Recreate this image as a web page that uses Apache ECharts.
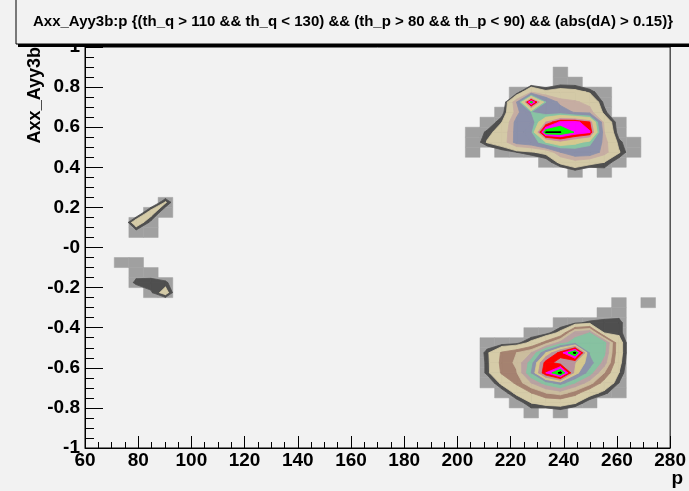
<!DOCTYPE html>
<html><head><meta charset="utf-8">
<script src="https://cdn.jsdelivr.net/npm/echarts@6/dist/echarts.min.js"></script>
<style>html,body{margin:0;padding:0;background:#f2f2f2;}#c{width:689px;height:491px;}</style>
</head><body><div id="c"></div>
<script>
// ---- text ----
const titleText = 'Axx_Ayy3b:p {(th_q > 110 && th_q < 130) && (th_p > 80 && th_p < 90) && (abs(dA) > 0.15)}';
const xTitle = 'p';
const yTitle = 'Axx_Ayy3b';
const xTickLabels = ['60','80','100','120','140','160','180','200','220','240','260','280'];
const yTickLabels = ['-1','-0.8','-0.6','-0.4','-0.2','-0','0.2','0.4','0.6','0.8','1'];
// ---- histogram binning ----
const binXLow = 60, binXWidth = 5.5;
const binYLow = -1, binYWidth = 0.05;
// ---- contour levels ----
const levels = [1, 1.5, 3, 4, 5, 6, 7, 8, 9, 10, 11, 12, 13];
// ---- bin contents: origin = [x bin, y bin] of bottom-left entry; rows listed top to bottom ----
const clusterA_origin = [26, 27];
const clusterA = [
  [0,0,0,0,0,0,0.5,0,0,0,0,0],
  [0,0,0,0,0,0,0.6,0.6,0,0,0,0],
  [0,0,0,0.5,3.0,1.8,2.0,1.8,1.4,0.3,0,0],
  [0,0,0,4.0,12.6,6.0,3.5,3.2,2.6,0.8,0,0],
  [0,0,0.6,3.5,6.0,5.0,5.0,3.8,3.5,1.2,0,0],
  [0,0.3,1.5,4.5,5.0,9.0,11.3,11.5,10.0,2.5,0.5,0],
  [0.2,1.2,2.0,4.5,5.5,13.05,13.05,11.9,11.2,3.0,0.6,0],
  [0.3,1.6,2.2,4.5,5.0,7.0,8.5,7.5,6.5,3.5,1.2,0.3],
  [0.5,0,0.6,1.0,1.4,1.8,4.0,5.0,5.0,3.5,1.6,0.3],
  [0,0,0,0,0,0.5,1.8,2.5,2.0,1.5,0.5,0],
  [0,0,0,0,0,0,0,0.6,0,0.6,0,0]
];
const clusterB_origin = [27, 3];
const clusterB = [
  [0,0,0,0,0,0,0,0,0,0.5,0,0.5],
  [0,0,0,0,0,0,0,0,0.4,0.6,0,0],
  [0,0,0,0,0,0.3,0.8,1.2,1.3,1.3,0,0],
  [0,0,0,0.3,0.6,1.8,5.5,6.0,1.4,1.3,0,0],
  [0.5,0.5,0.7,1.8,3.5,5.5,6.5,6.8,6.5,2.0,0,0],
  [1.3,3.2,4.0,5.0,8.0,10.5,13.4,6.8,6.2,2.0,0,0],
  [1.2,3.4,4.2,6.5,10.5,9.5,9.0,7.5,5.5,1.8,0,0],
  [1.2,3.2,3.9,7.0,11.0,13.4,8.5,6.5,4.0,1.5,0,0],
  [0.3,1.8,3.3,5.0,6.5,7.5,6.0,4.5,2.5,1.0,0,0],
  [0,0.5,1.8,3.0,4.0,4.5,3.5,2.0,1.2,0.4,0,0],
  [0,0,0.5,1.5,2.0,2.0,1.6,0.5,0,0,0,0],
  [0,0,0,0.5,0,0.5,0,0,0,0,0,0]
];
const clusterL_origin = [0, 15];
const clusterL = [
  [0,0,0,0,0,1.6,0],
  [0,0,0,0,2.0,0.3,0],
  [0,0,0,2.2,0.8,0,0],
  [0,0,0,0.6,0.6,0,0],
  [0,0,0,0,0,0,0],
  [0,0,0,0,0,0,0],
  [0,0,0.5,0.5,0,0,0],
  [0,0,0,0.6,0.6,0,0],
  [0,0,0,1.25,1.3,1.2,0],
  [0,0,0,0,0.9,1.9,0]
];

// ---- styles ----
const paletteA = ['#4f4f4f','#d4caa7','#c6ada2','#8b90aa','#8b90aa','#88c4a3','#d6c98f','#d6c98f','#c98fa2','#ff0000','#ff00ff','#00ff00','#000000'];
const paletteB = ['#4f4f4f','#d6cca8','#a58270','#cbbd9e','#b9a2a2','#87c2a1','#8c92aa','#d6c88e','#b9939c','#ff0000','#ff00ff','#00ff00','#000000'];
const boxColor = '#a0a0a0';
const font = 'Liberation Sans, Arial, sans-serif';

const clusters = [
  {grid: clusterA, origin: clusterA_origin, palette: paletteA},
  {grid: clusterB, origin: clusterB_origin, palette: paletteB},
  {grid: clusterL, origin: clusterL_origin, palette: paletteB}
];

const boxes = [];
clusters.forEach(cl => {
  const nR = cl.grid.length;
  cl.grid.forEach((row, r) => row.forEach((v, c) => {
    if (v > 0) {
      const i = cl.origin[0] + c, j = cl.origin[1] + (nR - 1 - r);
      boxes.push([binXLow + i * binXWidth, binYLow + j * binYWidth, binXLow + (i + 1) * binXWidth, binYLow + (j + 1) * binYWidth]);
    }
  }));
});

const polys = [];
levels.forEach((L, k) => {
  clusters.forEach(cl => {
    const nR = cl.grid.length, nC = cl.grid[0].length;
    const val = (c, jr) => (c < 0 || c >= nC || jr < 0 || jr >= nR) ? 0 : cl.grid[nR - 1 - jr][c];
    for (let c = -1; c < nC; c++) for (let jr = -1; jr < nR; jr++) {
      const cs = [[c, jr], [c + 1, jr], [c + 1, jr + 1], [c, jr + 1]];
      const vs = cs.map(([a, b]) => val(a, b));
      if (!vs.some(v => v >= L)) continue;
      const ps = cs.map(([a, b]) => [binXLow + binXWidth * (cl.origin[0] + a + 0.5), binYLow + binYWidth * (cl.origin[1] + b + 0.5)]);
      const pts = [];
      for (let q = 0; q < 4; q++) {
        const q2 = (q + 1) % 4, va = vs[q], vb = vs[q2];
        if (va >= L) pts.push(ps[q]);
        if ((va >= L) !== (vb >= L)) {
          const t = (L - va) / (vb - va);
          pts.push([ps[q][0] + t * (ps[q2][0] - ps[q][0]), ps[q][1] + t * (ps[q2][1] - ps[q][1])]);
        }
      }
      if (pts.length >= 3) polys.push({pts: pts, color: cl.palette[k]});
    }
  });
});

const chart = echarts.init(document.getElementById('c'));
chart.setOption({
  animation: false,
  backgroundColor: '#f2f2f2',
  grid: {left: 85, right: 7, top: 47, bottom: 43, show: true, borderColor: '#000', borderWidth: 1, backgroundColor: 'transparent'},
  xAxis: {
    type: 'value', min: 60, max: 280, interval: 20,
    axisLine: {show: true, onZero: false, lineStyle: {color: '#000', width: 1}},
    axisTick: {inside: true, length: 12, lineStyle: {color: '#000'}},
    minorTick: {show: true, splitNumber: 4, length: 6, lineStyle: {color: '#000'}},
    splitLine: {show: false},
    axisLabel: {color: '#000', fontSize: 19, fontWeight: 'bold', fontFamily: font, margin: 3,
      formatter: v => xTickLabels[Math.round((v - 60) / 20)]}
  },
  yAxis: {
    type: 'value', min: -1, max: 1, interval: 0.2,
    axisLine: {show: true, onZero: false, lineStyle: {color: '#000', width: 1}},
    axisTick: {inside: true, length: 18, lineStyle: {color: '#000'}},
    minorTick: {show: true, splitNumber: 4, length: 9, lineStyle: {color: '#000'}},
    splitLine: {show: false},
    axisLabel: {color: '#000', fontSize: 19, fontWeight: 'bold', fontFamily: font, margin: 5,
      formatter: v => yTickLabels[Math.round((v + 1) / 0.2)]}
  },
  series: [
    {
      type: 'custom', silent: true, clip: true, data: boxes,
      encode: {x: [0, 2], y: [1, 3]},
      renderItem: (params, api) => {
        const a = api.coord([api.value(0), api.value(3)]);
        const b = api.coord([api.value(2), api.value(1)]);
        return {type: 'rect', shape: {x: a[0], y: a[1], width: b[0] - a[0], height: b[1] - a[1]},
          style: {fill: boxColor, stroke: boxColor, lineWidth: 0.5}};
      }
    },
    {
      type: 'custom', silent: true, clip: true,
      data: polys.map(p => p.pts[0]),
      renderItem: (params, api) => {
        const p = polys[params.dataIndex];
        return {type: 'polygon', shape: {points: p.pts.map(q => api.coord(q))},
          style: {fill: p.color, stroke: p.color, lineWidth: 0.8}};
      }
    }
  ],
  graphic: [
    {type: 'rect', z: 100, shape: {x: 18, y: -2, width: 700, height: 49}, style: {fill: '#000'}},
    {type: 'rect', z: 101, shape: {x: 16, y: -4, width: 700, height: 48}, style: {fill: '#f2f2f2', stroke: '#000', lineWidth: 1}},
    {type: 'text', z: 102, x: 33, y: 22, style: {text: titleText, font: 'bold 15px ' + font, fill: '#000', verticalAlign: 'middle', align: 'left'}},
    {type: 'text', z: 50, x: 35, y: 47, rotation: Math.PI / 2, style: {text: yTitle, font: 'bold 18px ' + font, fill: '#000', align: 'right', verticalAlign: 'middle'}},
    {type: 'text', z: 50, x: 683, y: 479, style: {text: xTitle, font: 'bold 19px ' + font, fill: '#000', align: 'right', verticalAlign: 'middle'}}
  ]
});
</script></body></html>
